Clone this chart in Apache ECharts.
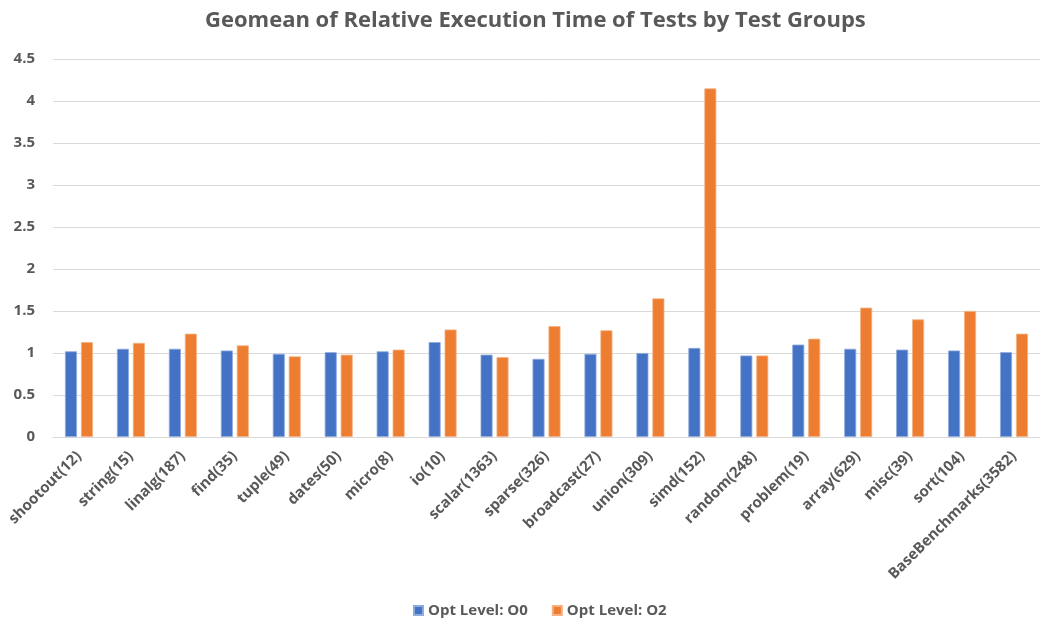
<!DOCTYPE html>
<html>
<head>
<meta charset="utf-8">
<script src="https://cdn.jsdelivr.net/npm/echarts@6/dist/echarts.min.js"></script>
<style>
  html, body { margin: 0; padding: 0; background: #fff; }
  #chart { width: 1040px; height: 618px; }
</style>
</head>
<body>
<div id="chart"></div>
<script>
// Test groups (number of tests in parentheses)
const categories = [
  'shootout(12)', 'string(15)', 'linalg(187)', 'find(35)', 'tuple(49)',
  'dates(50)', 'micro(8)', 'io(10)', 'scalar(1363)', 'sparse(326)',
  'broadcast(27)', 'union(309)', 'simd(152)', 'random(248)', 'problem(19)',
  'array(629)', 'misc(39)', 'sort(104)', 'BaseBenchmarks(3582)'
];

// Geomean of relative execution time per group
const optO0 = [1.02, 1.05, 1.05, 1.03, 0.99, 1.01, 1.02, 1.13, 0.98, 0.93,
               0.99, 1.00, 1.06, 0.97, 1.10, 1.05, 1.04, 1.03, 1.01];
const optO2 = [1.13, 1.12, 1.23, 1.09, 0.96, 0.98, 1.04, 1.28, 0.95, 1.32,
               1.27, 1.65, 4.15, 0.97, 1.17, 1.54, 1.40, 1.50, 1.23];

const seriesNames = ['Opt Level: O0', 'Opt Level: O2'];
const textGrey = '#595959';
const font = '"Open Sans", "Liberation Sans", sans-serif';

const chart = echarts.init(document.getElementById('chart'), null, { renderer: 'canvas' });

chart.setOption({
  animation: false,
  backgroundColor: '#ffffff',
  title: {
    text: 'Geomean of Relative Execution Time of Tests by Test Groups',
    left: 200,
    top: 5,
    textStyle: { color: textGrey, fontFamily: font, fontWeight: 'bold', fontSize: 22 }
  },
  legend: {
    top: 598,
    left: 408,
    itemWidth: 9,
    itemHeight: 9,
    itemGap: 24,
    icon: 'rect',
    textStyle: { color: textGrey, fontFamily: font, fontWeight: 'bold', fontSize: 15 },
    data: seriesNames
  },
  // plot area runs slightly past the right edge of the canvas
  grid: { left: 53, right: -11, top: 59, bottom: 181, containLabel: false },
  xAxis: {
    type: 'category',
    data: categories,
    axisLine: { lineStyle: { color: '#d9d9d9', width: 1 } },
    axisTick: { show: false },
    axisLabel: {
      interval: 0,
      rotate: 45,
      margin: 17,
      color: textGrey,
      fontFamily: font,
      fontWeight: 'bold',
      fontSize: 15
    }
  },
  yAxis: {
    type: 'value',
    min: 0,
    max: 4.5,
    interval: 0.5,
    axisLine: { show: false },
    axisTick: { show: false },
    splitLine: { lineStyle: { color: '#d9d9d9', width: 1 } },
    axisLabel: {
      margin: 18,
      color: textGrey,
      fontFamily: font,
      fontWeight: 'bold',
      fontSize: 15
    }
  },
  series: [
    {
      name: seriesNames[0],
      type: 'bar',
      data: optO0,
      barWidth: 12,
      barGap: '33%',
      itemStyle: { color: '#4472C4', borderColor: '#8faadc', borderWidth: 0.8 }
    },
    {
      name: seriesNames[1],
      type: 'bar',
      data: optO2,
      barWidth: 12,
      barGap: '33%',
      itemStyle: { color: '#ED7D31', borderColor: '#f4b183', borderWidth: 0.8 }
    }
  ]
});
</script>
</body>
</html>
